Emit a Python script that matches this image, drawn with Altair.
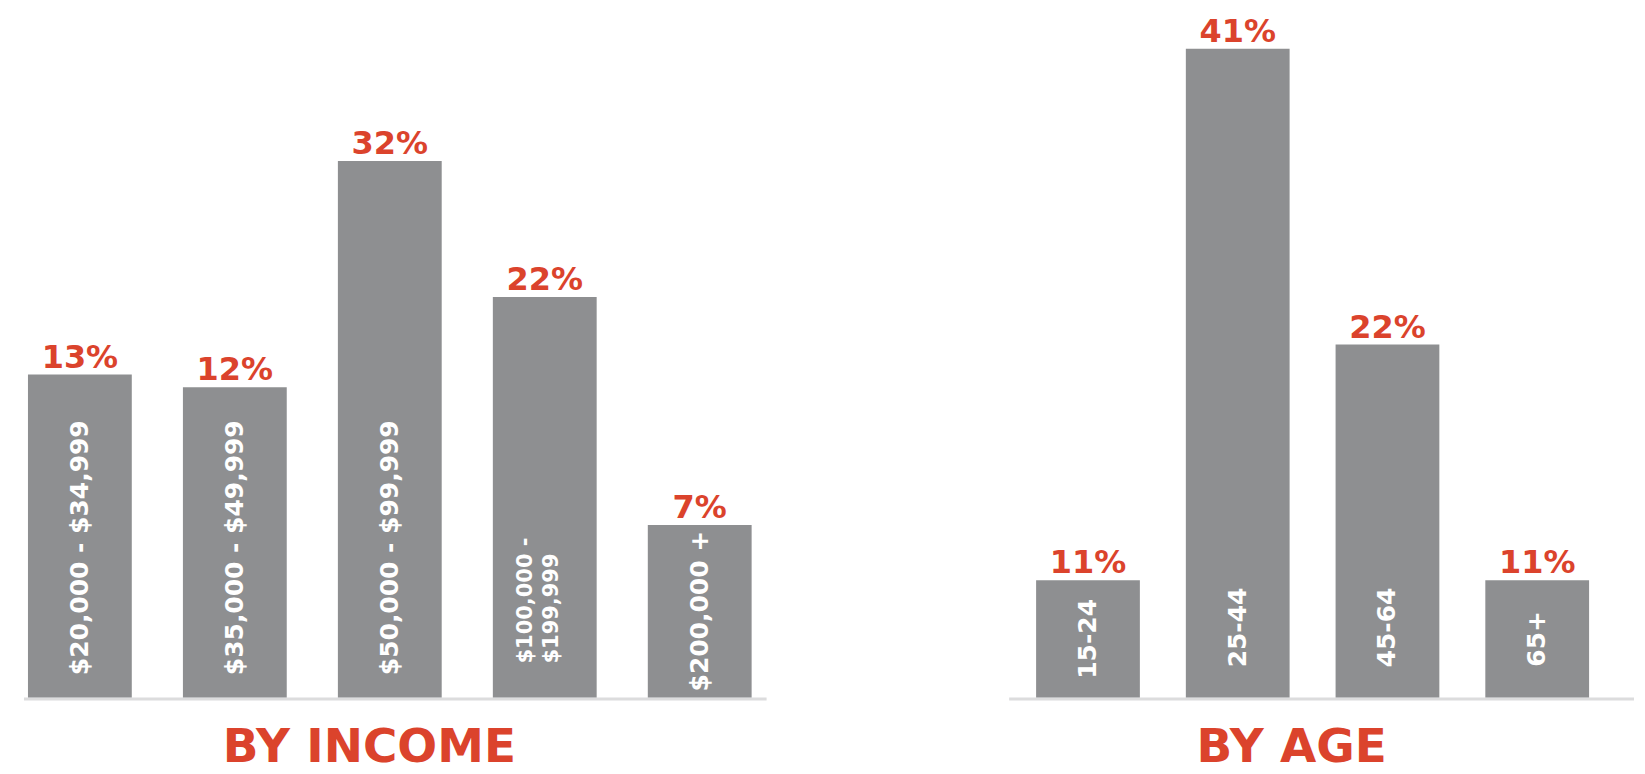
import altair as alt
import pandas as pd

# ---- data ----
income_cats = ["$20,000 - $34,999", "$35,000 - $49,999", "$50,000 - $99,999",
               "$100,000 -\n$199,999", "$200,000 +"]
income_pct = [13, 12, 32, 22, 7]
# apparent bar heights (the drawing is not proportional to the printed %)
income_bar = [20.4, 19.6, 33.9, 25.3, 10.9]

age_cats = ["15-24", "25-44", "45-64", "65+"]
age_pct = [11, 41, 22, 11]
age_bar = [7.4, 41.0, 22.3, 7.4]

titles = ["BY INCOME", "BY AGE"]

GREY = "#8e8f91"
RED = "#db432c"
AXIS = "#dcdcdd"
FONT = "DejaVu Sans"
H = 756
YDOM = [-4.226, 43.46]


def panel(cats, pct, bar, title, width, xrange, pin, rule_x, title_x, label_cap):
    df = pd.DataFrame({"cat": cats, "pct": pct, "bar": bar})
    df["pct_label"] = [f"{p}%" for p in pct]
    df["zero"] = 0
    base = alt.Chart(df)
    xs = alt.Scale(range=xrange, paddingInner=pin, paddingOuter=0)
    ys = alt.Scale(domain=YDOM, nice=False, zero=False)
    x = alt.X("cat:N", sort=cats, axis=None, scale=xs)
    y = alt.Y("bar:Q", axis=None, scale=ys)

    tdf = pd.DataFrame({"t": [title], "zero": [0]})
    rule = alt.Chart(tdf).mark_rule(color=AXIS, strokeWidth=3, yOffset=1.5).encode(
        x=alt.value(rule_x[0]), x2=alt.value(rule_x[1]),
        y=alt.Y("zero:Q", axis=None, scale=ys)
    )
    bars = base.mark_bar(color=GREY).encode(x=x, y=y, y2="zero:Q")
    pct_text = base.mark_text(
        color=RED, font=FONT, fontWeight="bold", fontSize=32,
        baseline="alphabetic", dy=-7
    ).encode(x=x, y=y, text="pct_label:N")
    inlab = base.transform_filter("indexof(datum.cat, '\\n') < 0").transform_calculate(
        mid=f"min(datum.bar / 2, {label_cap})"
    ).mark_text(
        angle=270, align="center", baseline="middle", color="white",
        font=FONT, fontWeight="bold", fontSize=25
    ).encode(x=x, y=alt.Y("mid:Q", axis=None, scale=ys), text="cat:N")
    inlab2 = base.transform_filter("indexof(datum.cat, '\\n') >= 0").mark_text(
        angle=270, align="left", baseline="middle", color="white",
        font=FONT, fontWeight="bold", fontSize=21, lineBreak="\n",
        lineHeight=26, dx=34, dy=-19
    ).encode(x=x, y=alt.Y("zero:Q", axis=None, scale=ys), text="cat:N")
    ttl = alt.Chart(tdf).mark_text(
        color=RED, font=FONT, fontWeight="bold", fontSize=47,
        align="center", baseline="alphabetic"
    ).encode(x=alt.value(title_x), y=alt.value(H - 2), text="t:N")
    return alt.layer(rule, bars, pct_text, inlab, inlab2, ttl).properties(
        width=width, height=H
    )


left = panel(income_cats, income_pct, income_bar, titles[0], 770,
             [19, 744], 0.33, [15, 759], 361, 9.46)
right = panel(age_cats, age_pct, age_bar, titles[1], 858,
              [257, 811], 0.307, [230, 856], 513, 4.42)

chart = alt.hconcat(left, right, spacing=0).properties(padding=0).configure_view(
    stroke="transparent"
)

chart.save("out.html", embed_options={"renderer": "svg", "actions": False})
